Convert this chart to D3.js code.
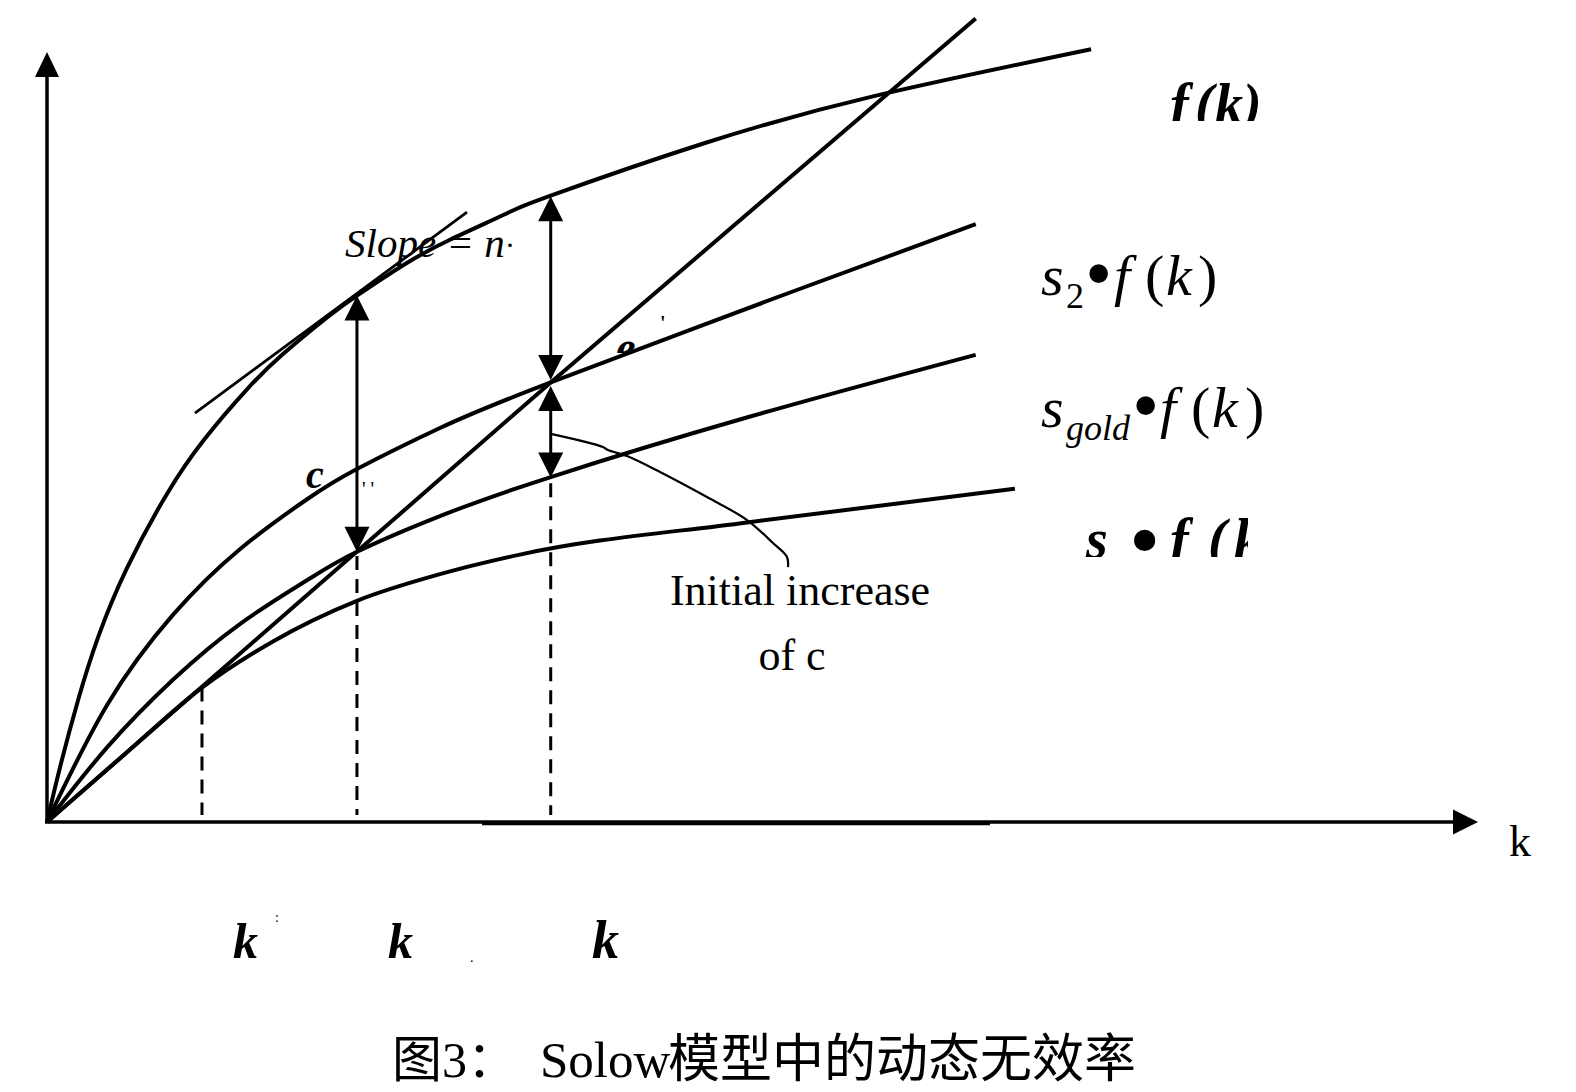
<!DOCTYPE html>
<html><head><meta charset="utf-8">
<script src="https://cdn.jsdelivr.net/npm/d3@7"></script>
<style>html,body{margin:0;padding:0;background:#fff;} svg{display:block;}</style>
</head><body>
<script>
// ---- data (k, value) ----
const fCurve    = [[0,0],[0.091,0.391],[0.219,0.877],[0.358,1.322],[0.557,1.81],[0.836,2.34],[1.092,2.724],[1.396,3.089],[1.651,3.344],[1.955,3.602],[2.166,3.76],[2.5,3.984],[2.816,4.159],[3.2,4.341],[3.515,4.472],[4.598,4.85],[5.779,5.185],[7.296,5.52]];
const s2Curve   = [[0,0],[0.42,0.836],[0.88,1.479],[1.35,1.95],[1.82,2.307],[2.166,2.521],[2.746,2.814],[3.52,3.14],[5.24,3.80],[6.49,4.27]];
const sGoldCurve= [[0,0],[0.42,0.533],[0.88,1.016],[1.35,1.416],[1.82,1.729],[2.166,1.93],[2.746,2.185],[3.52,2.464],[4.89,2.889],[6.49,3.337]];
const s1Curve   = [[0,0],[0.545,0.486],[1.083,0.96],[1.579,1.29],[2.166,1.58],[2.746,1.77],[3.305,1.91],[4.892,2.14],[6.764,2.38]];
const breakEven = [[0,0],[3.52,3.14],[6.49,5.74]];
const tangent   = [[1.034,2.92],[2.935,4.356]];
const kMarks    = [1.083, 2.166, 3.52];          // k1, k_gold, k2
const kMarkTops = [0.96, 1.90, 2.42];
const dblArrows = [[2.166,3.76,1.93],[3.52,4.47,3.157],[3.52,3.114,2.46]];
const leader    = [[3.529,2.771],[3.885,2.679],[3.92,2.657],[4.053,2.614],[4.284,2.5],[4.612,2.321],[4.892,2.157],[5.073,1.993],[5.171,1.893],[5.178,1.821]];
const axisMax   = [10, 5.5];

const W=1576,H=1092;
const svg=d3.select("body").append("svg").attr("width",W).attr("height",H).style("background","#fff");
const x=d3.scaleLinear().domain([0,axisMax[0]]).range([47,1478]);
const y=d3.scaleLinear().domain([0,axisMax[1]]).range([822,52]);
const serif='"Liberation Serif","Times New Roman",serif';

const defs=svg.append("defs");
defs.append("clipPath").attr("id","cF").append("rect").attr("x",1100).attr("y",0).attr("width",300).attr("height",121);
defs.append("clipPath").attr("id","cS1").append("rect").attr("x",1050).attr("y",480).attr("width",198).attr("height",77);
defs.append("clipPath").attr("id","cE").append("rect").attr("x",600).attr("y",320).attr("width",80).attr("height",33);

// axes
svg.append("line").attr("x1",x(0)).attr("y1",y(0)+1).attr("x2",x(0)).attr("y2",y(axisMax[1])+20).attr("stroke","#000").attr("stroke-width",3.5);
svg.append("line").attr("x1",x(0)-2).attr("y1",y(0)).attr("x2",x(axisMax[0])-20).attr("y2",y(0)).attr("stroke","#000").attr("stroke-width",3.5);
svg.append("line").attr("x1",482).attr("y1",y(0)+1.5).attr("x2",990).attr("y2",y(0)+1.5).attr("stroke","#000").attr("stroke-width",3.5);
function head(px,py,dir,len,hw){
  let p;
  if(dir==='up') p=[[px,py],[px-hw,py+len],[px+hw,py+len]];
  else if(dir==='down') p=[[px,py],[px-hw,py-len],[px+hw,py-len]];
  else p=[[px,py],[px-len,py-hw],[px-len,py+hw]];
  svg.append("path").attr("d","M"+p.map(d=>d.join(",")).join("L")+"Z").attr("fill","#000");
}
head(x(0),y(axisMax[1]),'up',25,12);
head(x(axisMax[0]),y(0),'right',25,12.5);

// dashed verticals
kMarks.forEach((k,i)=>{
  svg.append("line").attr("x1",x(k)).attr("x2",x(k)).attr("y1",y(kMarkTops[i])).attr("y2",y(0)-7)
    .attr("stroke","#000").attr("stroke-width",3).attr("stroke-dasharray","14,9");
});

// curves
const smooth=d3.line().x(d=>x(d[0])).y(d=>y(d[1])).curve(d3.curveNatural);
const mono=d3.line().x(d=>x(d[0])).y(d=>y(d[1])).curve(d3.curveMonotoneX);
const lin=d3.line().x(d=>x(d[0])).y(d=>y(d[1]));
[fCurve,s2Curve,sGoldCurve].forEach(c=>{
  svg.append("path").attr("d",smooth(c)).attr("fill","none").attr("stroke","#000").attr("stroke-width",4).attr("stroke-linejoin","round");
});
svg.append("path").attr("d",mono(s1Curve)).attr("fill","none").attr("stroke","#000").attr("stroke-width",4).attr("stroke-linejoin","round");
svg.append("path").attr("d",lin(breakEven)).attr("fill","none").attr("stroke","#000").attr("stroke-width",4);
svg.append("path").attr("d",lin(tangent)).attr("fill","none").attr("stroke","#000").attr("stroke-width",2.8);
svg.append("path").attr("d",d3.line().x(d=>x(d[0])).y(d=>y(d[1])).curve(d3.curveCatmullRom)(leader)).attr("fill","none").attr("stroke","#000").attr("stroke-width",2.2);

// double arrows
dblArrows.forEach(a=>{
  const px=x(a[0]), top=y(a[1]), bot=y(a[2]);
  svg.append("line").attr("x1",px).attr("x2",px).attr("y1",top+20).attr("y2",bot-20).attr("stroke","#000").attr("stroke-width",3);
  head(px,top,'up',25,12.5);
  head(px,bot,'down',25,12.5);
});

// texts
function t(str,px,py,opt={}){
  const e=svg.append("text").attr("x",px).attr("y",py).text(str)
    .attr("font-family",opt.ff||serif).attr("font-size",opt.fs||40)
    .attr("font-style",opt.it?"italic":"normal").attr("font-weight",opt.b?"bold":"normal").attr("fill","#000");
  if(opt.anchor) e.attr("text-anchor",opt.anchor);
  if(opt.clip) e.attr("clip-path","url(#"+opt.clip+")");
  return e;
}
// f(k)
t("f",1170,123,{fs:56,it:1,b:1,clip:"cF"});
t("(",1195,123,{fs:56,it:1,b:1,clip:"cF"});
t("k",1215,123,{fs:56,it:1,b:1,clip:"cF"});
t(")",1243,123,{fs:56,it:1,b:1,clip:"cF"});
// s2 f(k)
t("s",1041,295,{fs:58,it:1});
t("2",1066,308,{fs:36});
t("•",1085,300,{fs:78});
t("f",1114,295,{fs:58,it:1});
t("(",1145,295,{fs:58});
t("k",1166,295,{fs:58,it:1});
t(")",1198,295,{fs:58});
// sgold f(k)
t("s",1041,427,{fs:58,it:1});
t("gold",1066,440,{fs:36,it:1});
t("•",1132,432,{fs:78});
t("f",1160,427,{fs:58,it:1});
t("(",1191,427,{fs:58});
t("k",1212,427,{fs:58,it:1});
t(")",1245,427,{fs:58});
// s1 f(k) (clipped)
t("s",1086,558,{fs:56,it:1,b:1,clip:"cS1"});
t("•",1131,566,{fs:78,b:1,clip:"cS1"});
t("f",1170,558,{fs:56,it:1,b:1,clip:"cS1"});
t("(",1208,558,{fs:56,it:1,b:1,clip:"cS1"});
t("k",1234,558,{fs:56,it:1,b:1,clip:"cS1"});

t("Slope = n",345,257,{fs:41,it:1});
t("·",505,255,{fs:30});
t("c",306,488,{fs:40,it:1,b:1});
t("' '",362,496,{fs:20});
t("e",616,362,{fs:44,it:1,b:1,clip:"cE"});
t("'",660,330,{fs:20,b:1});

t("Initial increase",800,605,{fs:44,anchor:"middle"});
t("of c",792,670,{fs:44,anchor:"middle"});

t("k",1509,856,{fs:44});

t("k",233,958,{fs:50,it:1,b:1});
t(":",275,922,{fs:14});
t("k",388,958,{fs:50,it:1,b:1});
t(".",470,962,{fs:14});
t("k",592,958,{fs:54,it:1,b:1});

// caption
const cap=svg.append("text").attr("y",1077).attr("font-size",50).attr("fill","#000")
  .attr("font-family",'"Liberation Serif","Noto Sans CJK SC",serif');
cap.append("tspan").attr("x",392).text("图3：");
cap.append("tspan").attr("x",540).attr("font-size",51).text("Solow");
cap.append("tspan").attr("x",668).attr("font-size",52).text("模型中的动态无效率");
</script>
</body></html>
